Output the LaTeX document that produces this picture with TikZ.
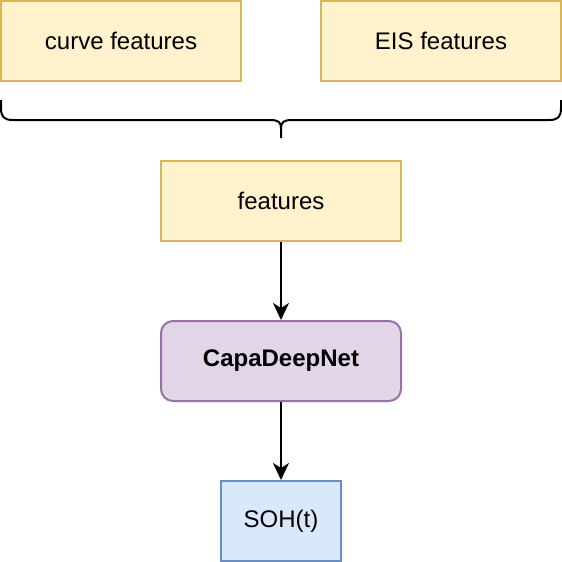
\documentclass[tikz,border=0pt]{standalone}
\usepackage{fontspec}
\setmainfont{Liberation Sans}
\usetikzlibrary{arrows.meta}

\definecolor{featfill}{HTML}{FFF2CC}
\definecolor{featline}{HTML}{D6B656}
\definecolor{netfill}{HTML}{E1D5E7}
\definecolor{netline}{HTML}{9673A6}
\definecolor{outfill}{HTML}{DAE8FC}
\definecolor{outline}{HTML}{6C8EBF}

\begin{document}
\begin{tikzpicture}[x=1pt, y=-1pt,
        every node/.style={font=\fontsize{24}{28}\selectfont, line width=2pt, inner sep=0pt},
        featbox/.style={draw=featline, fill=featfill, minimum width=240pt, minimum height=80pt},
        netbox/.style={draw=netline, fill=netfill, rounded corners=12pt, minimum width=240pt, minimum height=80pt, font=\fontsize{24}{28}\selectfont\bfseries},
        outbox/.style={draw=outline, fill=outfill, minimum width=120pt, minimum height=80pt},
        flow/.style={-{Stealth[length=17pt, width=16pt, inset=5pt]}, line width=2pt}]
    \useasboundingbox (0, 0) rectangle (562, 562);

    \node[featbox] (curve) at (121, 41) {curve features};
    \node[featbox] (eis) at (441, 41) {EIS features};
    \node[featbox] (features) at (281, 201) {features};
    \node[netbox] (capa) at (281, 361) {CapaDeepNet};
    \node[outbox] (soh) at (281, 521) {SOH(t)};

    % brace under the two feature boxes
    \coordinate (brace_l) at (1, 100);
    \coordinate (brace_r) at (561, 100);
    \coordinate (brace_tip) at (281, 138);
    \draw[line width=2pt] (brace_l) -- (1, 108) .. controls (1, 117) and (4, 120) .. (13, 120)
        -- (270, 120) .. controls (278, 120) and (281, 122) .. (281, 128) -- (brace_tip);
    \draw[line width=2pt] (brace_r) -- (561, 108) .. controls (561, 117) and (558, 120) .. (549, 120)
        -- (292, 120) .. controls (284, 120) and (281, 122) .. (281, 128);

    \draw[flow] (features) -- (capa);
    \draw[flow] (capa) -- (soh);
\end{tikzpicture}
\end{document}
